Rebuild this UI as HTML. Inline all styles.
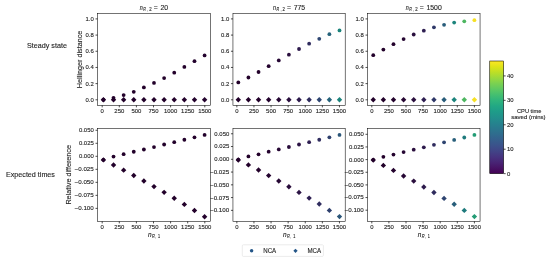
<!DOCTYPE html>
<html><head><meta charset="utf-8"><style>
html,body{margin:0;padding:0;background:#fff;}
text{stroke:#262626;stroke-width:0.12px;}
svg{display:block;will-change:transform;font-family:"Liberation Sans",sans-serif;}
</style></head><body>
<svg width="550" height="262" viewBox="0 0 550 262">
<rect x="0" y="0" width="550" height="262" fill="#fff"/>
<circle cx="103.4" cy="99.75" r="1.9" fill="#22012a"/>
<circle cx="113.52" cy="97.8" r="1.9" fill="#22012a"/>
<circle cx="123.64" cy="95.1" r="1.9" fill="#22012a"/>
<circle cx="133.76" cy="91.8" r="1.9" fill="#22012a"/>
<circle cx="143.88" cy="87.45" r="1.9" fill="#22012a"/>
<circle cx="154" cy="82.95" r="1.9" fill="#22012a"/>
<circle cx="164.12" cy="78.1" r="1.9" fill="#22012a"/>
<circle cx="174.24" cy="72.7" r="1.9" fill="#23012b"/>
<circle cx="184.36" cy="66.95" r="1.9" fill="#23012b"/>
<circle cx="194.48" cy="61.15" r="1.9" fill="#23022d"/>
<circle cx="204.6" cy="55.4" r="1.9" fill="#24032e"/>
<path d="M103.4 97.06L106.09 99.75L103.4 102.44L100.71 99.75Z" fill="#22012a"/>
<path d="M113.52 97.06L116.21 99.75L113.52 102.44L110.83 99.75Z" fill="#22012a"/>
<path d="M123.64 97.06L126.33 99.75L123.64 102.44L120.95 99.75Z" fill="#22012a"/>
<path d="M133.76 97.06L136.45 99.75L133.76 102.44L131.07 99.75Z" fill="#22012a"/>
<path d="M143.88 97.06L146.57 99.75L143.88 102.44L141.19 99.75Z" fill="#22012a"/>
<path d="M154 97.06L156.69 99.75L154 102.44L151.31 99.75Z" fill="#22012a"/>
<path d="M164.12 97.06L166.81 99.75L164.12 102.44L161.43 99.75Z" fill="#22012a"/>
<path d="M174.24 97.06L176.93 99.75L174.24 102.44L171.55 99.75Z" fill="#23012b"/>
<path d="M184.36 97.06L187.05 99.75L184.36 102.44L181.67 99.75Z" fill="#23012b"/>
<path d="M194.48 97.06L197.17 99.75L194.48 102.44L191.79 99.75Z" fill="#23022d"/>
<path d="M204.6 97.06L207.29 99.75L204.6 102.44L201.91 99.75Z" fill="#24032e"/>
<circle cx="238.3" cy="82.4" r="1.9" fill="#22012a"/>
<circle cx="248.42" cy="77.5" r="1.9" fill="#22012a"/>
<circle cx="258.54" cy="72" r="1.9" fill="#23012b"/>
<circle cx="268.66" cy="66.2" r="1.9" fill="#24032e"/>
<circle cx="278.78" cy="60.4" r="1.9" fill="#260734"/>
<circle cx="288.9" cy="54.7" r="1.9" fill="#2a0f3e"/>
<circle cx="299.02" cy="49" r="1.9" fill="#2d1a4c"/>
<circle cx="309.14" cy="43.7" r="1.9" fill="#2f2c5e"/>
<circle cx="319.26" cy="38.8" r="1.9" fill="#2e4672"/>
<circle cx="329.38" cy="34.2" r="1.9" fill="#26637b"/>
<circle cx="339.5" cy="30.4" r="1.9" fill="#1c847c"/>
<path d="M238.3 97.06L240.99 99.75L238.3 102.44L235.61 99.75Z" fill="#22012a"/>
<path d="M248.42 97.06L251.11 99.75L248.42 102.44L245.73 99.75Z" fill="#22012a"/>
<path d="M258.54 97.06L261.23 99.75L258.54 102.44L255.85 99.75Z" fill="#23012b"/>
<path d="M268.66 97.06L271.35 99.75L268.66 102.44L265.97 99.75Z" fill="#24032e"/>
<path d="M278.78 97.06L281.47 99.75L278.78 102.44L276.09 99.75Z" fill="#260734"/>
<path d="M288.9 97.06L291.59 99.75L288.9 102.44L286.21 99.75Z" fill="#2a0f3e"/>
<path d="M299.02 97.06L301.71 99.75L299.02 102.44L296.33 99.75Z" fill="#2d1a4c"/>
<path d="M309.14 97.06L311.83 99.75L309.14 102.44L306.45 99.75Z" fill="#2f2c5e"/>
<path d="M319.26 97.06L321.95 99.75L319.26 102.44L316.57 99.75Z" fill="#2e4672"/>
<path d="M329.38 97.06L332.07 99.75L329.38 102.44L326.69 99.75Z" fill="#26637b"/>
<path d="M339.5 97.06L342.19 99.75L339.5 102.44L336.81 99.75Z" fill="#1c847c"/>
<circle cx="373.25" cy="55.2" r="1.9" fill="#22012a"/>
<circle cx="383.37" cy="49.6" r="1.9" fill="#22012a"/>
<circle cx="393.48" cy="44.2" r="1.9" fill="#23022c"/>
<circle cx="403.6" cy="39.1" r="1.9" fill="#260632"/>
<circle cx="413.71" cy="34.5" r="1.9" fill="#2a0f3e"/>
<circle cx="423.82" cy="30.7" r="1.9" fill="#2e1e51"/>
<circle cx="433.94" cy="27.3" r="1.9" fill="#2f3868"/>
<circle cx="444.06" cy="24.8" r="1.9" fill="#285c7a"/>
<circle cx="454.17" cy="22.6" r="1.9" fill="#1c847c"/>
<circle cx="464.28" cy="21.3" r="1.9" fill="#4db660"/>
<circle cx="474.4" cy="20.2" r="1.9" fill="#f6e024"/>
<path d="M373.25 97.06L375.94 99.75L373.25 102.44L370.56 99.75Z" fill="#22012a"/>
<path d="M383.37 97.06L386.06 99.75L383.37 102.44L380.68 99.75Z" fill="#22012a"/>
<path d="M393.48 97.06L396.17 99.75L393.48 102.44L390.79 99.75Z" fill="#23022c"/>
<path d="M403.6 97.06L406.29 99.75L403.6 102.44L400.91 99.75Z" fill="#260632"/>
<path d="M413.71 97.06L416.4 99.75L413.71 102.44L411.02 99.75Z" fill="#2a0f3e"/>
<path d="M423.82 97.06L426.51 99.75L423.82 102.44L421.13 99.75Z" fill="#2e1e51"/>
<path d="M433.94 97.06L436.63 99.75L433.94 102.44L431.25 99.75Z" fill="#2f3868"/>
<path d="M444.06 97.06L446.75 99.75L444.06 102.44L441.37 99.75Z" fill="#285c7a"/>
<path d="M454.17 97.06L456.86 99.75L454.17 102.44L451.48 99.75Z" fill="#1c847c"/>
<path d="M464.28 97.06L466.97 99.75L464.28 102.44L461.59 99.75Z" fill="#4db660"/>
<path d="M474.4 97.06L477.09 99.75L474.4 102.44L471.71 99.75Z" fill="#f6e024"/>
<circle cx="103.4" cy="159.8" r="1.9" fill="#22012a"/>
<circle cx="113.52" cy="156.6" r="1.9" fill="#22012a"/>
<circle cx="123.64" cy="154.2" r="1.9" fill="#22012a"/>
<circle cx="133.76" cy="151.75" r="1.9" fill="#22012a"/>
<circle cx="143.88" cy="149.5" r="1.9" fill="#22012a"/>
<circle cx="154" cy="147.1" r="1.9" fill="#22012a"/>
<circle cx="164.12" cy="144.5" r="1.9" fill="#22012a"/>
<circle cx="174.24" cy="142.2" r="1.9" fill="#22012a"/>
<circle cx="184.36" cy="139.75" r="1.9" fill="#23012b"/>
<circle cx="194.48" cy="137.3" r="1.9" fill="#23012b"/>
<circle cx="204.6" cy="134.9" r="1.9" fill="#23022c"/>
<path d="M103.4 157.21L106.09 159.9L103.4 162.59L100.71 159.9Z" fill="#22012a"/>
<path d="M113.52 162.31L116.21 165L113.52 167.69L110.83 165Z" fill="#22012a"/>
<path d="M123.64 167.46L126.33 170.15L123.64 172.84L120.95 170.15Z" fill="#22012a"/>
<path d="M133.76 172.81L136.45 175.5L133.76 178.19L131.07 175.5Z" fill="#22012a"/>
<path d="M143.88 178.31L146.57 181L143.88 183.69L141.19 181Z" fill="#22012a"/>
<path d="M154 183.91L156.69 186.6L154 189.29L151.31 186.6Z" fill="#22012a"/>
<path d="M164.12 189.66L166.81 192.35L164.12 195.04L161.43 192.35Z" fill="#22012a"/>
<path d="M174.24 195.61L176.93 198.3L174.24 200.99L171.55 198.3Z" fill="#22012a"/>
<path d="M184.36 201.71L187.05 204.4L184.36 207.09L181.67 204.4Z" fill="#23012b"/>
<path d="M194.48 207.81L197.17 210.5L194.48 213.19L191.79 210.5Z" fill="#23012b"/>
<path d="M204.6 214.01L207.29 216.7L204.6 219.39L201.91 216.7Z" fill="#23022c"/>
<circle cx="238.3" cy="159.6" r="1.9" fill="#22012a"/>
<circle cx="248.42" cy="156.4" r="1.9" fill="#22012a"/>
<circle cx="258.54" cy="154.3" r="1.9" fill="#23012b"/>
<circle cx="268.66" cy="151.7" r="1.9" fill="#24032f"/>
<circle cx="278.78" cy="149.4" r="1.9" fill="#260734"/>
<circle cx="288.9" cy="147" r="1.9" fill="#290c3b"/>
<circle cx="299.02" cy="144.5" r="1.9" fill="#2c1445"/>
<circle cx="309.14" cy="142.2" r="1.9" fill="#2e1f52"/>
<circle cx="319.26" cy="139.75" r="1.9" fill="#302d5f"/>
<circle cx="329.38" cy="137.3" r="1.9" fill="#2f406e"/>
<circle cx="339.5" cy="134.9" r="1.9" fill="#2b5679"/>
<path d="M238.3 157.31L240.99 160L238.3 162.69L235.61 160Z" fill="#22012a"/>
<path d="M248.42 162.21L251.11 164.9L248.42 167.59L245.73 164.9Z" fill="#22012a"/>
<path d="M258.54 167.31L261.23 170L258.54 172.69L255.85 170Z" fill="#23012b"/>
<path d="M268.66 172.91L271.35 175.6L268.66 178.29L265.97 175.6Z" fill="#24032f"/>
<path d="M278.78 178.31L281.47 181L278.78 183.69L276.09 181Z" fill="#260734"/>
<path d="M288.9 184.01L291.59 186.7L288.9 189.39L286.21 186.7Z" fill="#290c3b"/>
<path d="M299.02 189.71L301.71 192.4L299.02 195.09L296.33 192.4Z" fill="#2c1445"/>
<path d="M309.14 195.41L311.83 198.1L309.14 200.79L306.45 198.1Z" fill="#2e1f52"/>
<path d="M319.26 201.31L321.95 204L319.26 206.69L316.57 204Z" fill="#302d5f"/>
<path d="M329.38 207.71L332.07 210.4L329.38 213.09L326.69 210.4Z" fill="#2f406e"/>
<path d="M339.5 213.91L342.19 216.6L339.5 219.29L336.81 216.6Z" fill="#2b5679"/>
<circle cx="373.25" cy="159.8" r="1.9" fill="#22012a"/>
<circle cx="383.37" cy="156.85" r="1.9" fill="#22012a"/>
<circle cx="393.48" cy="154.6" r="1.9" fill="#24032e"/>
<circle cx="403.6" cy="152.1" r="1.9" fill="#260734"/>
<circle cx="413.71" cy="149.7" r="1.9" fill="#2a0e3d"/>
<circle cx="423.82" cy="147.3" r="1.9" fill="#2d1a4c"/>
<circle cx="433.94" cy="144.8" r="1.9" fill="#2f2b5d"/>
<circle cx="444.06" cy="142.35" r="1.9" fill="#2e4470"/>
<circle cx="454.17" cy="139.9" r="1.9" fill="#285e7a"/>
<circle cx="464.28" cy="137.5" r="1.9" fill="#1e7a7c"/>
<circle cx="474.4" cy="134.9" r="1.9" fill="#239c75"/>
<path d="M373.25 157.41L375.94 160.1L373.25 162.79L370.56 160.1Z" fill="#22012a"/>
<path d="M383.37 162.71L386.06 165.4L383.37 168.09L380.68 165.4Z" fill="#22012a"/>
<path d="M393.48 167.71L396.17 170.4L393.48 173.09L390.79 170.4Z" fill="#24032e"/>
<path d="M403.6 173.31L406.29 176L403.6 178.69L400.91 176Z" fill="#260734"/>
<path d="M413.71 178.41L416.4 181.1L413.71 183.79L411.02 181.1Z" fill="#2a0e3d"/>
<path d="M423.82 184.31L426.51 187L423.82 189.69L421.13 187Z" fill="#2d1a4c"/>
<path d="M433.94 189.81L436.63 192.5L433.94 195.19L431.25 192.5Z" fill="#2f2b5d"/>
<path d="M444.06 195.71L446.75 198.4L444.06 201.09L441.37 198.4Z" fill="#2e4470"/>
<path d="M454.17 201.61L456.86 204.3L454.17 206.99L451.48 204.3Z" fill="#285e7a"/>
<path d="M464.28 207.71L466.97 210.4L464.28 213.09L461.59 210.4Z" fill="#1e7a7c"/>
<path d="M474.4 213.91L477.09 216.6L474.4 219.29L471.71 216.6Z" fill="#239c75"/>
<rect x="97.5" y="13.4" width="112.9" height="91.95" fill="none" stroke="#000" stroke-width="0.55"/>
<line x1="102.2" y1="105.35" x2="102.2" y2="107.35" stroke="#000" stroke-width="0.7"/>
<text x="100.55" y="113.05" font-size="5.51" textLength="3.31" lengthAdjust="spacingAndGlyphs" fill="#262626">0</text>
<line x1="119.3" y1="105.35" x2="119.3" y2="107.35" stroke="#000" stroke-width="0.7"/>
<text x="114.34" y="113.05" font-size="5.51" textLength="9.93" lengthAdjust="spacingAndGlyphs" fill="#262626">250</text>
<line x1="136.4" y1="105.35" x2="136.4" y2="107.35" stroke="#000" stroke-width="0.7"/>
<text x="131.44" y="113.05" font-size="5.51" textLength="9.93" lengthAdjust="spacingAndGlyphs" fill="#262626">500</text>
<line x1="153.5" y1="105.35" x2="153.5" y2="107.35" stroke="#000" stroke-width="0.7"/>
<text x="148.54" y="113.05" font-size="5.51" textLength="9.93" lengthAdjust="spacingAndGlyphs" fill="#262626">750</text>
<line x1="170.6" y1="105.35" x2="170.6" y2="107.35" stroke="#000" stroke-width="0.7"/>
<text x="163.98" y="113.05" font-size="5.51" textLength="13.23" lengthAdjust="spacingAndGlyphs" fill="#262626">1000</text>
<line x1="187.7" y1="105.35" x2="187.7" y2="107.35" stroke="#000" stroke-width="0.7"/>
<text x="181.08" y="113.05" font-size="5.51" textLength="13.23" lengthAdjust="spacingAndGlyphs" fill="#262626">1250</text>
<line x1="204.8" y1="105.35" x2="204.8" y2="107.35" stroke="#000" stroke-width="0.7"/>
<text x="198.18" y="113.05" font-size="5.51" textLength="13.23" lengthAdjust="spacingAndGlyphs" fill="#262626">1500</text>
<line x1="95.5" y1="99.8" x2="97.5" y2="99.8" stroke="#000" stroke-width="0.7"/>
<text x="85.53" y="101.73" font-size="5.51" textLength="8.27" lengthAdjust="spacingAndGlyphs" fill="#262626">0.0</text>
<line x1="95.5" y1="83.62" x2="97.5" y2="83.62" stroke="#000" stroke-width="0.7"/>
<text x="85.53" y="85.55" font-size="5.51" textLength="8.27" lengthAdjust="spacingAndGlyphs" fill="#262626">0.2</text>
<line x1="95.5" y1="67.44" x2="97.5" y2="67.44" stroke="#000" stroke-width="0.7"/>
<text x="85.53" y="69.37" font-size="5.51" textLength="8.27" lengthAdjust="spacingAndGlyphs" fill="#262626">0.4</text>
<line x1="95.5" y1="51.26" x2="97.5" y2="51.26" stroke="#000" stroke-width="0.7"/>
<text x="85.53" y="53.19" font-size="5.51" textLength="8.27" lengthAdjust="spacingAndGlyphs" fill="#262626">0.6</text>
<line x1="95.5" y1="35.08" x2="97.5" y2="35.08" stroke="#000" stroke-width="0.7"/>
<text x="85.53" y="37.01" font-size="5.51" textLength="8.27" lengthAdjust="spacingAndGlyphs" fill="#262626">0.8</text>
<line x1="95.5" y1="18.9" x2="97.5" y2="18.9" stroke="#000" stroke-width="0.7"/>
<text x="85.53" y="20.83" font-size="5.51" textLength="8.27" lengthAdjust="spacingAndGlyphs" fill="#262626">1.0</text>
<rect x="232.95" y="13.4" width="112.25" height="91.95" fill="none" stroke="#000" stroke-width="0.55"/>
<line x1="236.85" y1="105.35" x2="236.85" y2="107.35" stroke="#000" stroke-width="0.7"/>
<text x="235.2" y="113.05" font-size="5.51" textLength="3.31" lengthAdjust="spacingAndGlyphs" fill="#262626">0</text>
<line x1="253.95" y1="105.35" x2="253.95" y2="107.35" stroke="#000" stroke-width="0.7"/>
<text x="248.99" y="113.05" font-size="5.51" textLength="9.93" lengthAdjust="spacingAndGlyphs" fill="#262626">250</text>
<line x1="271.05" y1="105.35" x2="271.05" y2="107.35" stroke="#000" stroke-width="0.7"/>
<text x="266.09" y="113.05" font-size="5.51" textLength="9.93" lengthAdjust="spacingAndGlyphs" fill="#262626">500</text>
<line x1="288.15" y1="105.35" x2="288.15" y2="107.35" stroke="#000" stroke-width="0.7"/>
<text x="283.19" y="113.05" font-size="5.51" textLength="9.93" lengthAdjust="spacingAndGlyphs" fill="#262626">750</text>
<line x1="305.25" y1="105.35" x2="305.25" y2="107.35" stroke="#000" stroke-width="0.7"/>
<text x="298.63" y="113.05" font-size="5.51" textLength="13.23" lengthAdjust="spacingAndGlyphs" fill="#262626">1000</text>
<line x1="322.35" y1="105.35" x2="322.35" y2="107.35" stroke="#000" stroke-width="0.7"/>
<text x="315.73" y="113.05" font-size="5.51" textLength="13.23" lengthAdjust="spacingAndGlyphs" fill="#262626">1250</text>
<line x1="339.45" y1="105.35" x2="339.45" y2="107.35" stroke="#000" stroke-width="0.7"/>
<text x="332.83" y="113.05" font-size="5.51" textLength="13.23" lengthAdjust="spacingAndGlyphs" fill="#262626">1500</text>
<line x1="230.95" y1="99.8" x2="232.95" y2="99.8" stroke="#000" stroke-width="0.7"/>
<text x="220.98" y="101.73" font-size="5.51" textLength="8.27" lengthAdjust="spacingAndGlyphs" fill="#262626">0.0</text>
<line x1="230.95" y1="83.62" x2="232.95" y2="83.62" stroke="#000" stroke-width="0.7"/>
<text x="220.98" y="85.55" font-size="5.51" textLength="8.27" lengthAdjust="spacingAndGlyphs" fill="#262626">0.2</text>
<line x1="230.95" y1="67.44" x2="232.95" y2="67.44" stroke="#000" stroke-width="0.7"/>
<text x="220.98" y="69.37" font-size="5.51" textLength="8.27" lengthAdjust="spacingAndGlyphs" fill="#262626">0.4</text>
<line x1="230.95" y1="51.26" x2="232.95" y2="51.26" stroke="#000" stroke-width="0.7"/>
<text x="220.98" y="53.19" font-size="5.51" textLength="8.27" lengthAdjust="spacingAndGlyphs" fill="#262626">0.6</text>
<line x1="230.95" y1="35.08" x2="232.95" y2="35.08" stroke="#000" stroke-width="0.7"/>
<text x="220.98" y="37.01" font-size="5.51" textLength="8.27" lengthAdjust="spacingAndGlyphs" fill="#262626">0.8</text>
<line x1="230.95" y1="18.9" x2="232.95" y2="18.9" stroke="#000" stroke-width="0.7"/>
<text x="220.98" y="20.83" font-size="5.51" textLength="8.27" lengthAdjust="spacingAndGlyphs" fill="#262626">1.0</text>
<rect x="367.5" y="13.4" width="112.55" height="91.95" fill="none" stroke="#000" stroke-width="0.55"/>
<line x1="371.8" y1="105.35" x2="371.8" y2="107.35" stroke="#000" stroke-width="0.7"/>
<text x="370.15" y="113.05" font-size="5.51" textLength="3.31" lengthAdjust="spacingAndGlyphs" fill="#262626">0</text>
<line x1="388.9" y1="105.35" x2="388.9" y2="107.35" stroke="#000" stroke-width="0.7"/>
<text x="383.94" y="113.05" font-size="5.51" textLength="9.93" lengthAdjust="spacingAndGlyphs" fill="#262626">250</text>
<line x1="406" y1="105.35" x2="406" y2="107.35" stroke="#000" stroke-width="0.7"/>
<text x="401.04" y="113.05" font-size="5.51" textLength="9.93" lengthAdjust="spacingAndGlyphs" fill="#262626">500</text>
<line x1="423.1" y1="105.35" x2="423.1" y2="107.35" stroke="#000" stroke-width="0.7"/>
<text x="418.14" y="113.05" font-size="5.51" textLength="9.93" lengthAdjust="spacingAndGlyphs" fill="#262626">750</text>
<line x1="440.2" y1="105.35" x2="440.2" y2="107.35" stroke="#000" stroke-width="0.7"/>
<text x="433.58" y="113.05" font-size="5.51" textLength="13.23" lengthAdjust="spacingAndGlyphs" fill="#262626">1000</text>
<line x1="457.3" y1="105.35" x2="457.3" y2="107.35" stroke="#000" stroke-width="0.7"/>
<text x="450.68" y="113.05" font-size="5.51" textLength="13.23" lengthAdjust="spacingAndGlyphs" fill="#262626">1250</text>
<line x1="474.4" y1="105.35" x2="474.4" y2="107.35" stroke="#000" stroke-width="0.7"/>
<text x="467.78" y="113.05" font-size="5.51" textLength="13.23" lengthAdjust="spacingAndGlyphs" fill="#262626">1500</text>
<line x1="365.5" y1="99.8" x2="367.5" y2="99.8" stroke="#000" stroke-width="0.7"/>
<text x="355.53" y="101.73" font-size="5.51" textLength="8.27" lengthAdjust="spacingAndGlyphs" fill="#262626">0.0</text>
<line x1="365.5" y1="83.62" x2="367.5" y2="83.62" stroke="#000" stroke-width="0.7"/>
<text x="355.53" y="85.55" font-size="5.51" textLength="8.27" lengthAdjust="spacingAndGlyphs" fill="#262626">0.2</text>
<line x1="365.5" y1="67.44" x2="367.5" y2="67.44" stroke="#000" stroke-width="0.7"/>
<text x="355.53" y="69.37" font-size="5.51" textLength="8.27" lengthAdjust="spacingAndGlyphs" fill="#262626">0.4</text>
<line x1="365.5" y1="51.26" x2="367.5" y2="51.26" stroke="#000" stroke-width="0.7"/>
<text x="355.53" y="53.19" font-size="5.51" textLength="8.27" lengthAdjust="spacingAndGlyphs" fill="#262626">0.6</text>
<line x1="365.5" y1="35.08" x2="367.5" y2="35.08" stroke="#000" stroke-width="0.7"/>
<text x="355.53" y="37.01" font-size="5.51" textLength="8.27" lengthAdjust="spacingAndGlyphs" fill="#262626">0.8</text>
<line x1="365.5" y1="18.9" x2="367.5" y2="18.9" stroke="#000" stroke-width="0.7"/>
<text x="355.53" y="20.83" font-size="5.51" textLength="8.27" lengthAdjust="spacingAndGlyphs" fill="#262626">1.0</text>
<rect x="97.5" y="128.5" width="112.9" height="92.9" fill="none" stroke="#000" stroke-width="0.55"/>
<line x1="102.2" y1="221.4" x2="102.2" y2="223.4" stroke="#000" stroke-width="0.7"/>
<text x="100.55" y="229.1" font-size="5.51" textLength="3.31" lengthAdjust="spacingAndGlyphs" fill="#262626">0</text>
<line x1="119.3" y1="221.4" x2="119.3" y2="223.4" stroke="#000" stroke-width="0.7"/>
<text x="114.34" y="229.1" font-size="5.51" textLength="9.93" lengthAdjust="spacingAndGlyphs" fill="#262626">250</text>
<line x1="136.4" y1="221.4" x2="136.4" y2="223.4" stroke="#000" stroke-width="0.7"/>
<text x="131.44" y="229.1" font-size="5.51" textLength="9.93" lengthAdjust="spacingAndGlyphs" fill="#262626">500</text>
<line x1="153.5" y1="221.4" x2="153.5" y2="223.4" stroke="#000" stroke-width="0.7"/>
<text x="148.54" y="229.1" font-size="5.51" textLength="9.93" lengthAdjust="spacingAndGlyphs" fill="#262626">750</text>
<line x1="170.6" y1="221.4" x2="170.6" y2="223.4" stroke="#000" stroke-width="0.7"/>
<text x="163.98" y="229.1" font-size="5.51" textLength="13.23" lengthAdjust="spacingAndGlyphs" fill="#262626">1000</text>
<line x1="187.7" y1="221.4" x2="187.7" y2="223.4" stroke="#000" stroke-width="0.7"/>
<text x="181.08" y="229.1" font-size="5.51" textLength="13.23" lengthAdjust="spacingAndGlyphs" fill="#262626">1250</text>
<line x1="204.8" y1="221.4" x2="204.8" y2="223.4" stroke="#000" stroke-width="0.7"/>
<text x="198.18" y="229.1" font-size="5.51" textLength="13.23" lengthAdjust="spacingAndGlyphs" fill="#262626">1500</text>
<line x1="95.5" y1="130.27" x2="97.5" y2="130.27" stroke="#000" stroke-width="0.7"/>
<text x="78.91" y="132.2" font-size="5.51" textLength="14.89" lengthAdjust="spacingAndGlyphs" fill="#262626">0.050</text>
<line x1="95.5" y1="143.29" x2="97.5" y2="143.29" stroke="#000" stroke-width="0.7"/>
<text x="78.91" y="145.22" font-size="5.51" textLength="14.89" lengthAdjust="spacingAndGlyphs" fill="#262626">0.025</text>
<line x1="95.5" y1="156.3" x2="97.5" y2="156.3" stroke="#000" stroke-width="0.7"/>
<text x="78.91" y="158.23" font-size="5.51" textLength="14.89" lengthAdjust="spacingAndGlyphs" fill="#262626">0.000</text>
<line x1="95.5" y1="169.32" x2="97.5" y2="169.32" stroke="#000" stroke-width="0.7"/>
<text x="74.56" y="171.25" font-size="5.51" textLength="19.25" lengthAdjust="spacingAndGlyphs" fill="#262626">−0.025</text>
<line x1="95.5" y1="182.33" x2="97.5" y2="182.33" stroke="#000" stroke-width="0.7"/>
<text x="74.56" y="184.26" font-size="5.51" textLength="19.25" lengthAdjust="spacingAndGlyphs" fill="#262626">−0.050</text>
<line x1="95.5" y1="195.35" x2="97.5" y2="195.35" stroke="#000" stroke-width="0.7"/>
<text x="74.56" y="197.28" font-size="5.51" textLength="19.25" lengthAdjust="spacingAndGlyphs" fill="#262626">−0.075</text>
<line x1="95.5" y1="208.36" x2="97.5" y2="208.36" stroke="#000" stroke-width="0.7"/>
<text x="74.56" y="210.29" font-size="5.51" textLength="19.25" lengthAdjust="spacingAndGlyphs" fill="#262626">−0.100</text>
<rect x="232.95" y="128.5" width="112.25" height="92.9" fill="none" stroke="#000" stroke-width="0.55"/>
<line x1="236.85" y1="221.4" x2="236.85" y2="223.4" stroke="#000" stroke-width="0.7"/>
<text x="235.2" y="229.1" font-size="5.51" textLength="3.31" lengthAdjust="spacingAndGlyphs" fill="#262626">0</text>
<line x1="253.95" y1="221.4" x2="253.95" y2="223.4" stroke="#000" stroke-width="0.7"/>
<text x="248.99" y="229.1" font-size="5.51" textLength="9.93" lengthAdjust="spacingAndGlyphs" fill="#262626">250</text>
<line x1="271.05" y1="221.4" x2="271.05" y2="223.4" stroke="#000" stroke-width="0.7"/>
<text x="266.09" y="229.1" font-size="5.51" textLength="9.93" lengthAdjust="spacingAndGlyphs" fill="#262626">500</text>
<line x1="288.15" y1="221.4" x2="288.15" y2="223.4" stroke="#000" stroke-width="0.7"/>
<text x="283.19" y="229.1" font-size="5.51" textLength="9.93" lengthAdjust="spacingAndGlyphs" fill="#262626">750</text>
<line x1="305.25" y1="221.4" x2="305.25" y2="223.4" stroke="#000" stroke-width="0.7"/>
<text x="298.63" y="229.1" font-size="5.51" textLength="13.23" lengthAdjust="spacingAndGlyphs" fill="#262626">1000</text>
<line x1="322.35" y1="221.4" x2="322.35" y2="223.4" stroke="#000" stroke-width="0.7"/>
<text x="315.73" y="229.1" font-size="5.51" textLength="13.23" lengthAdjust="spacingAndGlyphs" fill="#262626">1250</text>
<line x1="339.45" y1="221.4" x2="339.45" y2="223.4" stroke="#000" stroke-width="0.7"/>
<text x="332.83" y="229.1" font-size="5.51" textLength="13.23" lengthAdjust="spacingAndGlyphs" fill="#262626">1500</text>
<line x1="230.95" y1="133.78" x2="232.95" y2="133.78" stroke="#000" stroke-width="0.7"/>
<text x="214.36" y="135.71" font-size="5.51" textLength="14.89" lengthAdjust="spacingAndGlyphs" fill="#262626">0.050</text>
<line x1="230.95" y1="146.54" x2="232.95" y2="146.54" stroke="#000" stroke-width="0.7"/>
<text x="214.36" y="148.47" font-size="5.51" textLength="14.89" lengthAdjust="spacingAndGlyphs" fill="#262626">0.025</text>
<line x1="230.95" y1="159.3" x2="232.95" y2="159.3" stroke="#000" stroke-width="0.7"/>
<text x="214.36" y="161.23" font-size="5.51" textLength="14.89" lengthAdjust="spacingAndGlyphs" fill="#262626">0.000</text>
<line x1="230.95" y1="172.06" x2="232.95" y2="172.06" stroke="#000" stroke-width="0.7"/>
<text x="210.01" y="173.99" font-size="5.51" textLength="19.25" lengthAdjust="spacingAndGlyphs" fill="#262626">−0.025</text>
<line x1="230.95" y1="184.83" x2="232.95" y2="184.83" stroke="#000" stroke-width="0.7"/>
<text x="210.01" y="186.76" font-size="5.51" textLength="19.25" lengthAdjust="spacingAndGlyphs" fill="#262626">−0.050</text>
<line x1="230.95" y1="197.59" x2="232.95" y2="197.59" stroke="#000" stroke-width="0.7"/>
<text x="210.01" y="199.52" font-size="5.51" textLength="19.25" lengthAdjust="spacingAndGlyphs" fill="#262626">−0.075</text>
<line x1="230.95" y1="210.35" x2="232.95" y2="210.35" stroke="#000" stroke-width="0.7"/>
<text x="210.01" y="212.28" font-size="5.51" textLength="19.25" lengthAdjust="spacingAndGlyphs" fill="#262626">−0.100</text>
<rect x="367.5" y="128.5" width="112.55" height="92.9" fill="none" stroke="#000" stroke-width="0.55"/>
<line x1="371.8" y1="221.4" x2="371.8" y2="223.4" stroke="#000" stroke-width="0.7"/>
<text x="370.15" y="229.1" font-size="5.51" textLength="3.31" lengthAdjust="spacingAndGlyphs" fill="#262626">0</text>
<line x1="388.9" y1="221.4" x2="388.9" y2="223.4" stroke="#000" stroke-width="0.7"/>
<text x="383.94" y="229.1" font-size="5.51" textLength="9.93" lengthAdjust="spacingAndGlyphs" fill="#262626">250</text>
<line x1="406" y1="221.4" x2="406" y2="223.4" stroke="#000" stroke-width="0.7"/>
<text x="401.04" y="229.1" font-size="5.51" textLength="9.93" lengthAdjust="spacingAndGlyphs" fill="#262626">500</text>
<line x1="423.1" y1="221.4" x2="423.1" y2="223.4" stroke="#000" stroke-width="0.7"/>
<text x="418.14" y="229.1" font-size="5.51" textLength="9.93" lengthAdjust="spacingAndGlyphs" fill="#262626">750</text>
<line x1="440.2" y1="221.4" x2="440.2" y2="223.4" stroke="#000" stroke-width="0.7"/>
<text x="433.58" y="229.1" font-size="5.51" textLength="13.23" lengthAdjust="spacingAndGlyphs" fill="#262626">1000</text>
<line x1="457.3" y1="221.4" x2="457.3" y2="223.4" stroke="#000" stroke-width="0.7"/>
<text x="450.68" y="229.1" font-size="5.51" textLength="13.23" lengthAdjust="spacingAndGlyphs" fill="#262626">1250</text>
<line x1="474.4" y1="221.4" x2="474.4" y2="223.4" stroke="#000" stroke-width="0.7"/>
<text x="467.78" y="229.1" font-size="5.51" textLength="13.23" lengthAdjust="spacingAndGlyphs" fill="#262626">1500</text>
<line x1="365.5" y1="134.3" x2="367.5" y2="134.3" stroke="#000" stroke-width="0.7"/>
<text x="348.91" y="136.23" font-size="5.51" textLength="14.89" lengthAdjust="spacingAndGlyphs" fill="#262626">0.050</text>
<line x1="365.5" y1="146.95" x2="367.5" y2="146.95" stroke="#000" stroke-width="0.7"/>
<text x="348.91" y="148.88" font-size="5.51" textLength="14.89" lengthAdjust="spacingAndGlyphs" fill="#262626">0.025</text>
<line x1="365.5" y1="159.6" x2="367.5" y2="159.6" stroke="#000" stroke-width="0.7"/>
<text x="348.91" y="161.53" font-size="5.51" textLength="14.89" lengthAdjust="spacingAndGlyphs" fill="#262626">0.000</text>
<line x1="365.5" y1="172.25" x2="367.5" y2="172.25" stroke="#000" stroke-width="0.7"/>
<text x="344.56" y="174.18" font-size="5.51" textLength="19.25" lengthAdjust="spacingAndGlyphs" fill="#262626">−0.025</text>
<line x1="365.5" y1="184.9" x2="367.5" y2="184.9" stroke="#000" stroke-width="0.7"/>
<text x="344.56" y="186.83" font-size="5.51" textLength="19.25" lengthAdjust="spacingAndGlyphs" fill="#262626">−0.050</text>
<line x1="365.5" y1="197.55" x2="367.5" y2="197.55" stroke="#000" stroke-width="0.7"/>
<text x="344.56" y="199.48" font-size="5.51" textLength="19.25" lengthAdjust="spacingAndGlyphs" fill="#262626">−0.075</text>
<line x1="365.5" y1="210.2" x2="367.5" y2="210.2" stroke="#000" stroke-width="0.7"/>
<text x="344.56" y="212.13" font-size="5.51" textLength="19.25" lengthAdjust="spacingAndGlyphs" fill="#262626">−0.100</text>
<text x="139.83" y="9.8" font-size="6.68" textLength="3" lengthAdjust="spacingAndGlyphs" font-style="italic" fill="#262626" stroke-width="0.25">n</text>
<text x="143.33" y="10.7" font-size="4.56" textLength="2.6" lengthAdjust="spacingAndGlyphs" font-style="italic" fill="#262626" stroke-width="0.2">R</text>
<text x="147.53" y="10.7" font-size="4.56" textLength="0.6" lengthAdjust="spacingAndGlyphs" fill="#262626">,</text>
<text x="149.23" y="10.7" font-size="4.56" textLength="2.4" lengthAdjust="spacingAndGlyphs" fill="#262626" stroke-width="0.2">2</text>
<text x="153.83" y="9.7" font-size="6.36" textLength="4" lengthAdjust="spacingAndGlyphs" fill="#262626" stroke-width="0.2">=</text>
<text x="160.43" y="9.8" font-size="6.49" textLength="7.63" lengthAdjust="spacingAndGlyphs" fill="#262626" stroke-width="0.2">20</text>
<text x="273.05" y="9.8" font-size="6.68" textLength="3" lengthAdjust="spacingAndGlyphs" font-style="italic" fill="#262626" stroke-width="0.25">n</text>
<text x="276.55" y="10.7" font-size="4.56" textLength="2.6" lengthAdjust="spacingAndGlyphs" font-style="italic" fill="#262626" stroke-width="0.2">R</text>
<text x="280.75" y="10.7" font-size="4.56" textLength="0.6" lengthAdjust="spacingAndGlyphs" fill="#262626">,</text>
<text x="282.45" y="10.7" font-size="4.56" textLength="2.4" lengthAdjust="spacingAndGlyphs" fill="#262626" stroke-width="0.2">2</text>
<text x="287.05" y="9.7" font-size="6.36" textLength="4" lengthAdjust="spacingAndGlyphs" fill="#262626" stroke-width="0.2">=</text>
<text x="293.65" y="9.8" font-size="6.49" textLength="11.46" lengthAdjust="spacingAndGlyphs" fill="#262626" stroke-width="0.2">775</text>
<text x="405.84" y="9.8" font-size="6.68" textLength="3" lengthAdjust="spacingAndGlyphs" font-style="italic" fill="#262626" stroke-width="0.25">n</text>
<text x="409.34" y="10.7" font-size="4.56" textLength="2.6" lengthAdjust="spacingAndGlyphs" font-style="italic" fill="#262626" stroke-width="0.2">R</text>
<text x="413.54" y="10.7" font-size="4.56" textLength="0.6" lengthAdjust="spacingAndGlyphs" fill="#262626">,</text>
<text x="415.24" y="10.7" font-size="4.56" textLength="2.4" lengthAdjust="spacingAndGlyphs" fill="#262626" stroke-width="0.2">2</text>
<text x="419.84" y="9.7" font-size="6.36" textLength="4" lengthAdjust="spacingAndGlyphs" fill="#262626" stroke-width="0.2">=</text>
<text x="426.44" y="9.8" font-size="6.49" textLength="15.27" lengthAdjust="spacingAndGlyphs" fill="#262626" stroke-width="0.2">1500</text>
<text x="147.95" y="236.9" font-size="7.21" textLength="3.6" lengthAdjust="spacingAndGlyphs" font-style="italic" fill="#262626" stroke-width="0.3">n</text>
<text x="151.95" y="237.9" font-size="5.21" textLength="2.8" lengthAdjust="spacingAndGlyphs" font-style="italic" fill="#262626" stroke-width="0.2">R</text>
<text x="155.25" y="237.7" font-size="4.67" textLength="0.6" lengthAdjust="spacingAndGlyphs" fill="#262626">,</text>
<text x="158.05" y="237.7" font-size="4.94" textLength="2.1" lengthAdjust="spacingAndGlyphs" fill="#262626" stroke-width="0.2">1</text>
<text x="283.07" y="236.9" font-size="7.21" textLength="3.6" lengthAdjust="spacingAndGlyphs" font-style="italic" fill="#262626" stroke-width="0.3">n</text>
<text x="287.07" y="237.9" font-size="5.21" textLength="2.8" lengthAdjust="spacingAndGlyphs" font-style="italic" fill="#262626" stroke-width="0.2">R</text>
<text x="290.37" y="237.7" font-size="4.67" textLength="0.6" lengthAdjust="spacingAndGlyphs" fill="#262626">,</text>
<text x="293.17" y="237.7" font-size="4.94" textLength="2.1" lengthAdjust="spacingAndGlyphs" fill="#262626" stroke-width="0.2">1</text>
<text x="417.77" y="236.9" font-size="7.21" textLength="3.6" lengthAdjust="spacingAndGlyphs" font-style="italic" fill="#262626" stroke-width="0.3">n</text>
<text x="421.77" y="237.9" font-size="5.21" textLength="2.8" lengthAdjust="spacingAndGlyphs" font-style="italic" fill="#262626" stroke-width="0.2">R</text>
<text x="425.07" y="237.7" font-size="4.67" textLength="0.6" lengthAdjust="spacingAndGlyphs" fill="#262626">,</text>
<text x="427.87" y="237.7" font-size="4.94" textLength="2.1" lengthAdjust="spacingAndGlyphs" fill="#262626" stroke-width="0.2">1</text>
<g transform="translate(82.15 59.4) rotate(-90)"><text x="-28.74" y="0" font-size="6.73" textLength="57.47" lengthAdjust="spacingAndGlyphs" fill="#262626">Hellinger distance</text></g>
<g transform="translate(70.6 174.85) rotate(-90)"><text x="-29.75" y="0" font-size="6.73" textLength="59.51" lengthAdjust="spacingAndGlyphs" fill="#262626">Relative difference</text></g>
<text x="27" y="47.8" font-size="6.68" textLength="39.9" lengthAdjust="spacingAndGlyphs" fill="#262626">Steady state</text>
<text x="6" y="177.1" font-size="6.68" textLength="48.92" lengthAdjust="spacingAndGlyphs" fill="#262626">Expected times</text>
<defs><linearGradient id="vir" x1="0" y1="1" x2="0" y2="0">
<stop offset="0" stop-color="#440154"/>
<stop offset="0.05" stop-color="#471365"/>
<stop offset="0.1" stop-color="#482475"/>
<stop offset="0.15" stop-color="#463480"/>
<stop offset="0.2" stop-color="#414487"/>
<stop offset="0.25" stop-color="#3b528b"/>
<stop offset="0.3" stop-color="#355f8d"/>
<stop offset="0.35" stop-color="#2f6c8e"/>
<stop offset="0.4" stop-color="#2a788e"/>
<stop offset="0.45" stop-color="#25848e"/>
<stop offset="0.5" stop-color="#21918c"/>
<stop offset="0.55" stop-color="#1e9c89"/>
<stop offset="0.6" stop-color="#22a884"/>
<stop offset="0.65" stop-color="#2fb47c"/>
<stop offset="0.7" stop-color="#44bf70"/>
<stop offset="0.75" stop-color="#5ec962"/>
<stop offset="0.8" stop-color="#7ad151"/>
<stop offset="0.85" stop-color="#9bd93c"/>
<stop offset="0.9" stop-color="#bddf26"/>
<stop offset="0.95" stop-color="#dfe318"/>
<stop offset="1" stop-color="#fde725"/>
</linearGradient></defs>
<rect x="489.75" y="61" width="13.9" height="112.65" fill="url(#vir)" stroke="#000" stroke-width="0.55"/>
<line x1="503.65" y1="173.65" x2="505.65" y2="173.65" stroke="#000" stroke-width="0.7"/>
<text x="507.05" y="175.58" font-size="5.51" textLength="3.31" lengthAdjust="spacingAndGlyphs" fill="#262626">0</text>
<line x1="503.65" y1="149.21" x2="505.65" y2="149.21" stroke="#000" stroke-width="0.7"/>
<text x="507.05" y="151.14" font-size="5.51" textLength="6.62" lengthAdjust="spacingAndGlyphs" fill="#262626">10</text>
<line x1="503.65" y1="124.78" x2="505.65" y2="124.78" stroke="#000" stroke-width="0.7"/>
<text x="507.05" y="126.71" font-size="5.51" textLength="6.62" lengthAdjust="spacingAndGlyphs" fill="#262626">20</text>
<line x1="503.65" y1="100.34" x2="505.65" y2="100.34" stroke="#000" stroke-width="0.7"/>
<text x="507.05" y="102.27" font-size="5.51" textLength="6.62" lengthAdjust="spacingAndGlyphs" fill="#262626">30</text>
<line x1="503.65" y1="75.91" x2="505.65" y2="75.91" stroke="#000" stroke-width="0.7"/>
<text x="507.05" y="77.84" font-size="5.51" textLength="6.62" lengthAdjust="spacingAndGlyphs" fill="#262626">40</text>
<text x="516.98" y="112.9" font-size="5.62" textLength="24.43" lengthAdjust="spacingAndGlyphs" fill="#262626">CPU time</text>
<text x="511.23" y="118.7" font-size="5.62" textLength="34.35" lengthAdjust="spacingAndGlyphs" fill="#262626">saved (mins)</text>
<rect x="242.3" y="244.8" width="81.1" height="11.6" rx="1" fill="#fff" fill-opacity="0.8" stroke="#d9d9d9" stroke-width="0.5"/>
<circle cx="251.6" cy="250.7" r="1.75" fill="#245688"/>
<path d="M295.5 248.65L297.65 250.8L295.5 252.95L293.35 250.8Z" fill="#245688"/>
<text x="263.2" y="252.8" font-size="6.47" textLength="13" lengthAdjust="spacingAndGlyphs" fill="#262626">NCA</text>
<text x="307.4" y="252.8" font-size="6.47" textLength="13.7" lengthAdjust="spacingAndGlyphs" fill="#262626">MCA</text>
</svg>
</body></html>
